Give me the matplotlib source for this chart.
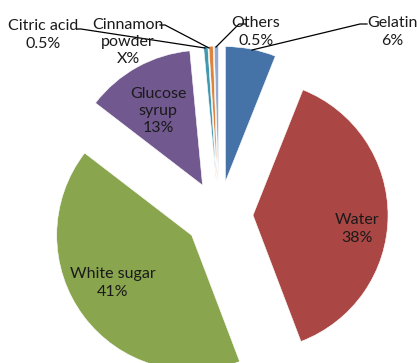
import matplotlib
matplotlib.use("Agg")
import matplotlib.pyplot as plt

# ingredient shares (percent), clockwise from 12 o'clock
ingredients = ["Gelatin", "Water", "White sugar", "Glucose syrup",
               "Citric acid", "Cinnamon powder", "Others"]
shares = [6, 38, 41, 13, 0.5, 0.5, 0.5]
share_labels = ["6%", "38%", "41%", "13%", "0.5%", "X%", "0.5%"]
colors = ["#4572A7", "#AA4643", "#89A54E", "#71588F",
          "#4198AF", "#DB843D", "#93A9CF"]

W, H = 417, 363
CX, CY, R = 219, 215, 135   # pie centre / radius in pixels

plt.rcParams["font.family"] = ["Lato", "DejaVu Sans"]

fig = plt.figure(figsize=(W / 100, H / 100), dpi=100)
ax = fig.add_axes([0, 0, 1, 1])

ax.pie(shares, colors=colors, startangle=90, counterclock=False,
       radius=1, center=(0, 0), explode=[34 / R] * len(shares),
       wedgeprops=dict(edgecolor="white", linewidth=0.4), frame=True)
ax.set_xlim(-CX / R, (W - CX) / R)
ax.set_ylim((CY - H) / R, CY / R)
ax.set_aspect("equal")
ax.axis("off")


def pos(x, y):
    # pixel position -> axes fraction
    return x / W, 1 - y / H


txt = dict(transform=ax.transAxes, ha="center", va="center",
           fontsize=11.5, color="#1a1a1a", linespacing=1.3)

# labels inside the big slices
ax.text(*pos(357, 229), "Water\n" + share_labels[1], **txt)
ax.text(*pos(113, 283), "White sugar\n" + share_labels[2], **txt)
ax.text(*pos(158, 111), "Glucose\nsyrup\n" + share_labels[3], **txt)

# outside labels with leader lines
ax.text(*pos(43, 35), "Citric acid\n" + share_labels[4], **txt)
ax.text(*pos(128, 42), "Cinnamon\npowder\n" + share_labels[5], **txt)
ax.text(*pos(256, 32), "Others\n" + share_labels[6], **txt)
ax.text(*pos(392, 32), "Gelatin\n" + share_labels[0], **txt)

leaders = [
    [(77, 29), (81, 29), (205, 48)],
    [(160, 25), (165, 25), (209, 48)],
    [(246, 24), (239, 24), (216, 47)],
    [(367, 24), (360, 24), (252, 50)],
]
for pts in leaders:
    xs = [p[0] / W for p in pts]
    ys = [1 - p[1] / H for p in pts]
    ax.plot(xs, ys, transform=ax.transAxes, color="black", lw=0.9)

fig.savefig("out.png", dpi=100)
